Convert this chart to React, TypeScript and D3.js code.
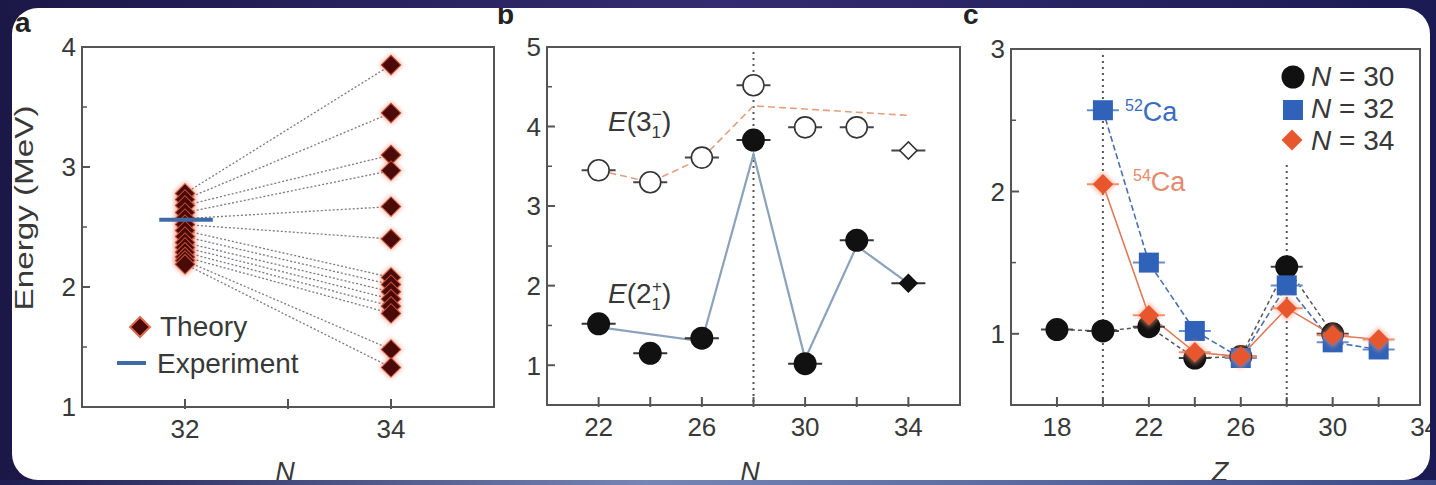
import React from "react";
import * as d3 from "d3";

const W = 1436;
const H = 485;
const FONT = "'Liberation Sans', Arial, Helvetica, sans-serif";

// panel a: theory spread at N = 32 vs N = 34
const theoryN32 = [2.78, 2.73, 2.68, 2.62, 2.57, 2.52, 2.47, 2.42, 2.37, 2.33, 2.29, 2.25, 2.22, 2.19];
const theoryN34 = [3.85, 3.45, 3.1, 2.97, 2.67, 2.4, 2.08, 2.02, 1.96, 1.9, 1.84, 1.78, 1.48, 1.33];
const experimentN32 = 2.56;
const aTicksY = [1, 2, 3, 4];
const aMinorY = [1.5, 2.5, 3.5];
const aTicksX = [32, 34];
const aMinorX = [33];

// panel b: E(2+) and E(3-) vs N
const bN = [22, 24, 26, 28, 30, 32, 34];
const e2Exp = [1.52, 1.15, 1.34, 3.83, 1.02, 2.57, 2.03];
const e3Exp = [3.45, 3.3, 3.61, 4.52, 3.99, 3.99, 3.7];
const e2LineN = [22, 26, 28, 30, 32, 34];
const e2LineVal = [1.48, 1.3, 3.65, 1.08, 2.5, 2.03];
const e3LineN = [22, 24, 26, 28, 30, 32, 34];
const e3LineVal = [3.45, 3.3, 3.6, 4.26, 4.22, 4.18, 4.14];
const bTicksY = [1, 2, 3, 4, 5];
const bMinorY = [1.5, 2.5, 3.5, 4.5];
const bLabelsX = [22, 26, 30, 34];
const bTickMarksX = [22, 24, 26, 28, 30, 32, 34];

// panel c: vs Z for N = 30, 32, 34
const cZ30 = [18, 20, 22, 24, 26, 28, 30];
const cN30 = [1.03, 1.02, 1.05, 0.83, 0.84, 1.47, 1.0];
const cZ32 = [20, 22, 24, 26, 28, 30, 32];
const cN32 = [2.57, 1.5, 1.02, 0.83, 1.34, 0.94, 0.89];
const cZ34 = [20, 22, 24, 26, 28, 30, 32];
const cN34 = [2.05, 1.13, 0.87, 0.84, 1.18, 0.99, 0.96];
const cTicksY = [1, 2, 3];
const cMinorY = [1.5, 2.5];
const cLabelsX = [18, 22, 26, 30, 34];
const cTickMarksX = [18, 20, 22, 24, 26, 28, 30, 32];

const BLUE = "#2f62b8";
const ORANGE = "#e8562e";
const MAROON = "#4a0a08";

const diamondPath = (size: number) => d3.symbol(d3.symbolSquare, size)() || "";

function Frame({ x0, x1, y0, y1 }: { x0: number; x1: number; y0: number; y1: number }) {
  return <rect x={x0} y={y0} width={x1 - x0} height={y1 - y0} fill="none" stroke="#555" strokeWidth={2} />;
}

export default function App() {
  // scales
  const ax = d3.scaleLinear().domain([31, 35]).range([82, 494]);
  const ay = d3.scaleLinear().domain([1, 4]).range([407, 47]);
  const bx = d3.scaleLinear().domain([20, 36]).range([547, 960]);
  const by = d3.scaleLinear().domain([0.5, 5]).range([405, 47]);
  const cx = d3.scaleLinear().domain([16, 33.8]).range([1011, 1420]);
  const cy = d3.scaleLinear().domain([0.5, 3]).range([405, 49]);

  const tickTxt = { fontFamily: FONT, fontSize: 26, fill: "#383838" } as const;

  const yTicks = (s: d3.ScaleLinear<number, number>, x0: number, major: number[], minor: number[]) => (
    <g>
      {major.map(v => (
        <g key={"M" + v}>
          <line x1={x0} x2={x0 + 8} y1={s(v)} y2={s(v)} stroke="#555" strokeWidth={2} />
          <text x={x0 - 6} y={s(v)} dy="0.36em" textAnchor="end" {...tickTxt}>{v}</text>
        </g>
      ))}
      {minor.map(v => (
        <line key={"m" + v} x1={x0} x2={x0 + 5} y1={s(v)} y2={s(v)} stroke="#555" strokeWidth={1.5} />
      ))}
    </g>
  );

  const xTicks = (s: d3.ScaleLinear<number, number>, y0: number, marks: number[], labels: number[]) => (
    <g>
      {marks.map(v => (
        <line key={"t" + v} x1={s(v)} x2={s(v)} y1={y0 + 2} y2={y0 - 8} stroke="#555" strokeWidth={2} />
      ))}
      {labels.map(v => (
        <text key={"l" + v} x={s(v)} y={y0 + 31} textAnchor="middle" {...tickTxt}>{v}</text>
      ))}
    </g>
  );

  const errBar = (x: number, y: number, half: number, color: string, key: string) => (
    <line key={key} x1={x - half} x2={x + half} y1={y} y2={y} stroke={color} strokeWidth={2} />
  );

  const lineB = d3.line<[number, number]>().x(d => bx(d[0])).y(d => by(d[1]));
  const lineC = d3.line<[number, number]>().x(d => cx(d[0])).y(d => cy(d[1]));

  return (
    <svg width={W} height={H} style={{ position: "absolute", left: 0, top: 0, display: "block" }}>
      <defs>
        <linearGradient id="bg" x1="0" x2="1" y1="0" y2="0">
          <stop offset="0" stopColor="#1b1848" />
          <stop offset="0.5" stopColor="#332c70" />
          <stop offset="1" stopColor="#1c1a52" />
        </linearGradient>
        <linearGradient id="bgBottom" x1="0" x2="1" y1="0" y2="0">
          <stop offset="0" stopColor="#1e1c50" />
          <stop offset="0.45" stopColor="#7585b5" />
          <stop offset="1" stopColor="#3c4a88" />
        </linearGradient>
        <clipPath id="panel">
          <rect x={12} y={8} width={1418} height={472} rx={26} />
        </clipPath>
        <filter id="glow" x="-50%" y="-50%" width="200%" height="200%">
          <feGaussianBlur stdDeviation="2.2" />
        </filter>
      </defs>
      <rect x={0} y={0} width={W} height={H} fill="url(#bg)" />
      <rect x={0} y={480} width={W} height={5} fill="url(#bgBottom)" />
      <rect x={12} y={8} width={1418} height={472} rx={26} fill="#ffffff" />

      <g clipPath="url(#panel)">
        {/* ---------- panel a ---------- */}
        <text x={15} y={32} fontFamily={FONT} fontWeight="bold" fontSize={28} fill="#222">a</text>
        <text transform={`translate(33,${208}) rotate(-90)`} textAnchor="middle" fontFamily={FONT} fontSize={26}
          textLength={205} lengthAdjust="spacingAndGlyphs" fill="#383838">Energy (MeV)</text>
        {theoryN32.map((v, i) => (
          <line key={"dl" + i} x1={ax(32)} y1={ay(v)} x2={ax(34)} y2={ay(theoryN34[i])}
            stroke="#7a7a80" strokeWidth={1.3} strokeDasharray="2,2" />
        ))}
        {theoryN32.map((v, i) => (
          <path key={"g32" + i} d={diamondPath(300)} transform={`translate(${ax(32)},${ay(v)}) rotate(45)`} fill="#ef7a5c" opacity={0.55} filter="url(#glow)" />
        ))}
        {theoryN32.map((v, i) => (
          <path key={"d32" + i} d={diamondPath(190)} transform={`translate(${ax(32)},${ay(v)}) rotate(45)`} fill={MAROON} stroke="#c8503a" strokeWidth={1} />
        ))}
        {theoryN34.map((v, i) => (
          <path key={"g34" + i} d={diamondPath(280)} transform={`translate(${ax(34)},${ay(v)}) rotate(45)`} fill="#ef7a5c" opacity={0.55} filter="url(#glow)" />
        ))}
        {theoryN34.map((v, i) => (
          <path key={"d34" + i} d={diamondPath(190)} transform={`translate(${ax(34)},${ay(v)}) rotate(45)`} fill={MAROON} stroke="#c8503a" strokeWidth={1} />
        ))}
        <line x1={ax(31.75)} x2={ax(32.27)} y1={ay(experimentN32)} y2={ay(experimentN32)} stroke="#3f6aa8" strokeWidth={4} />
        {/* legend a */}
        <path d={diamondPath(200)} transform={`translate(${140},${327}) rotate(45)`} fill={MAROON} stroke="#e06a4c" strokeWidth={2} />
        <text x={160} y={336} fontFamily={FONT} fontSize={28} fill="#383838">Theory</text>
        <line x1={117} x2={146} y1={363} y2={363} stroke="#3f6aa8" strokeWidth={4} />
        <text x={157} y={373} fontFamily={FONT} fontSize={28} fill="#383838">Experiment</text>
        <Frame x0={82} x1={494} y0={47} y1={407} />
        {yTicks(ay, 82, aTicksY, aMinorY)}
        {xTicks(ax, 407, [...aTicksX, ...aMinorX], aTicksX)}
        <text x={285} y={481} textAnchor="middle" fontFamily={FONT} fontStyle="italic" fontSize={27} fill="#383838">N</text>

        {/* ---------- panel b ---------- */}
        <text x={497} y={24} fontFamily={FONT} fontWeight="bold" fontSize={28} fill="#222">b</text>
        <line x1={bx(28)} x2={bx(28)} y1={52} y2={405} stroke="#555" strokeWidth={2} strokeDasharray="2,4" />
        <path d={lineB(e3LineN.map((n, i) => [n, e3LineVal[i]] as [number, number])) || ""} fill="none" stroke="#e3a080" strokeWidth={1.6} strokeDasharray="7,4" />
        <path d={lineB(e2LineN.map((n, i) => [n, e2LineVal[i]] as [number, number])) || ""} fill="none" stroke="#8aa2bc" strokeWidth={2.2} />
        {bN.map((n, i) => errBar(bx(n), by(e3Exp[i]), 17, "#444", "e3e" + i))}
        {bN.map((n, i) => errBar(bx(n), by(e2Exp[i]), 17, "#333", "e2e" + i))}
        {bN.map((n, i) =>
          i === bN.length - 1 ? (
            <path key={"e3m" + i} d={diamondPath(150)} transform={`translate(${bx(n)},${by(e3Exp[i])}) rotate(45)`} fill="#fff" stroke="#333" strokeWidth={1.6} />
          ) : (
            <circle key={"e3m" + i} cx={bx(n)} cy={by(e3Exp[i])} r={10.5} fill="#fff" stroke="#333" strokeWidth={1.6} />
          )
        )}
        {bN.map((n, i) =>
          i === bN.length - 1 ? (
            <path key={"e2m" + i} d={diamondPath(190)} transform={`translate(${bx(n)},${by(e2Exp[i])}) rotate(45)`} fill="#111" />
          ) : (
            <circle key={"e2m" + i} cx={bx(n)} cy={by(e2Exp[i])} r={11.5} fill="#111" />
          )
        )}
        <text x={608} y={131} fontFamily={FONT} fontSize={28} fill="#383838">
          <tspan fontStyle="italic">E</tspan>
          <tspan>(3</tspan>
          <tspan fontSize={17} dy={7}>1</tspan>
          <tspan fontSize={17} dx={-9} dy={-18}>−</tspan>
          <tspan dy={11}>)</tspan>
        </text>
        <text x={608} y={303} fontFamily={FONT} fontSize={28} fill="#383838">
          <tspan fontStyle="italic">E</tspan>
          <tspan>(2</tspan>
          <tspan fontSize={17} dy={7}>1</tspan>
          <tspan fontSize={17} dx={-9} dy={-18}>+</tspan>
          <tspan dy={11}>)</tspan>
        </text>
        <Frame x0={547} x1={960} y0={47} y1={405} />
        {yTicks(by, 547, bTicksY, bMinorY)}
        {xTicks(bx, 405, bTickMarksX, bLabelsX)}
        <text x={750} y={481} textAnchor="middle" fontFamily={FONT} fontStyle="italic" fontSize={27} fill="#383838">N</text>

        {/* ---------- panel c ---------- */}
        <text x={963} y={24} fontFamily={FONT} fontWeight="bold" fontSize={28} fill="#222">c</text>
        <line x1={cx(20)} x2={cx(20)} y1={55} y2={405} stroke="#555" strokeWidth={2} strokeDasharray="2,4" />
        <line x1={cx(28)} x2={cx(28)} y1={165} y2={405} stroke="#555" strokeWidth={2} strokeDasharray="2,4" />
        <path d={lineC(cZ30.map((z, i) => [z, cN30[i]] as [number, number])) || ""} fill="none" stroke="#555" strokeWidth={1.5} strokeDasharray="4,3" />
        <path d={lineC(cZ32.map((z, i) => [z, cN32[i]] as [number, number])) || ""} fill="none" stroke="#4a6fae" strokeWidth={1.6} strokeDasharray="6,3" />
        <path d={lineC(cZ34.map((z, i) => [z, cN34[i]] as [number, number])) || ""} fill="none" stroke="#e07a5a" strokeWidth={1.6} />
        {cZ30.map((z, i) => errBar(cx(z), cy(cN30[i]), 16, "#444", "c30e" + i))}
        {cZ32.map((z, i) => errBar(cx(z), cy(cN32[i]), 16, "#6a8cc8", "c32e" + i))}
        {cZ34.map((z, i) => errBar(cx(z), cy(cN34[i]), 16, "#f09070", "c34e" + i))}
        {cZ30.map((z, i) => (
          <circle key={"c30" + i} cx={cx(z)} cy={cy(cN30[i])} r={11.5} fill="#111" />
        ))}
        {cZ32.map((z, i) => (
          <rect key={"c32" + i} x={cx(z) - 10} y={cy(cN32[i]) - 10} width={20} height={20} fill={BLUE} />
        ))}
        {cZ34.map((z, i) => (
          <path key={"c34g" + i} d={diamondPath(320)} transform={`translate(${cx(z)},${cy(cN34[i])}) rotate(45)`} fill="#f29577" opacity={0.6} filter="url(#glow)" />
        ))}
        {cZ34.map((z, i) => (
          <path key={"c34" + i} d={diamondPath(210)} transform={`translate(${cx(z)},${cy(cN34[i])}) rotate(45)`} fill={ORANGE} />
        ))}
        <text x={1125} y={121} fontFamily={FONT} fontSize={27} fill="#3b6cc0">
          <tspan fontSize={16} dy={-10}>52</tspan>
          <tspan dy={10}>Ca</tspan>
        </text>
        <text x={1133} y={191} fontFamily={FONT} fontSize={27} fill="#e58a6c">
          <tspan fontSize={16} dy={-10}>54</tspan>
          <tspan dy={10}>Ca</tspan>
        </text>
        {/* legend c */}
        <circle cx={1293} cy={77} r={11.5} fill="#111" />
        <rect x={1283} y={100} width={20} height={20} fill={BLUE} />
        <path d={diamondPath(220)} transform={`translate(${1292},${140}) rotate(45)`} fill={ORANGE} />
        {[30, 32, 34].map((n, i) => (
          <text key={"lg" + n} x={1311} y={86 + i * 32} fontFamily={FONT} fontSize={28} fill="#383838">
            <tspan fontStyle="italic">N</tspan> = {n}
          </text>
        ))}
        <Frame x0={1011} x1={1420} y0={49} y1={405} />
        {yTicks(cy, 1011, cTicksY, cMinorY)}
        {xTicks(cx, 405, cTickMarksX, cLabelsX)}
        <text x={1220} y={481} textAnchor="middle" fontFamily={FONT} fontStyle="italic" fontSize={27} fill="#383838">Z</text>
      </g>
    </svg>
  );
}
